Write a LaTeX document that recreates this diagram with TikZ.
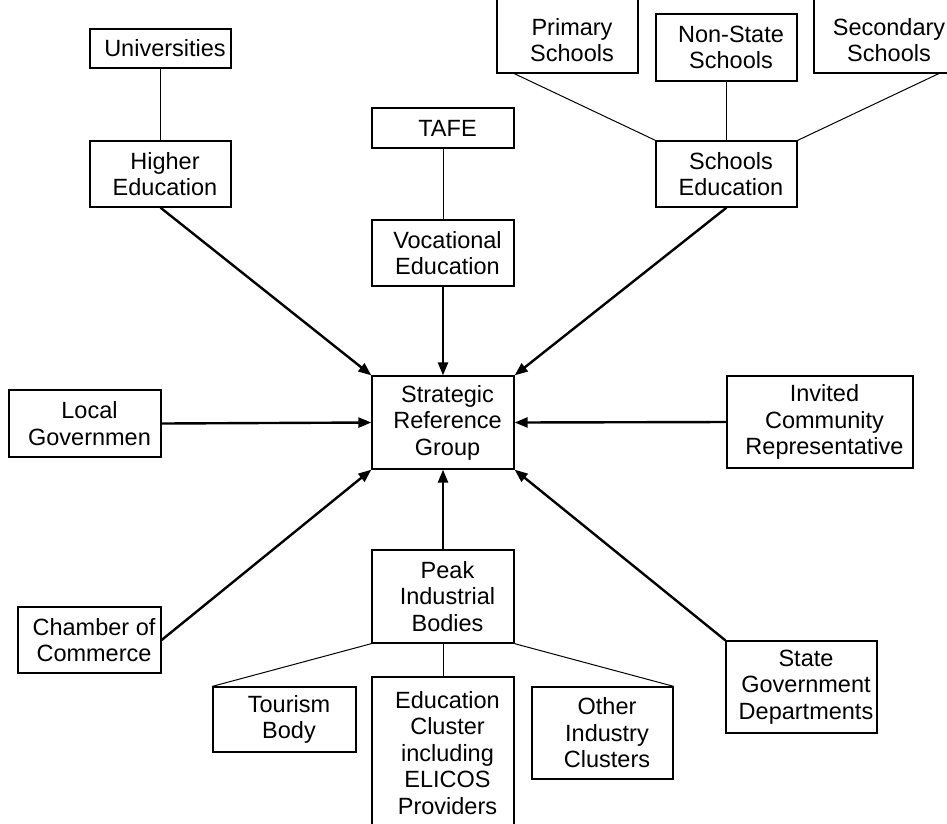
\documentclass[tikz,border=0pt]{standalone}
\usepackage{fontspec}
\setmainfont{Liberation Sans}
\usetikzlibrary{arrows.meta,calc}

\tikzset{
  unit/.style={draw, line width=1.3pt, inner sep=0pt},
  lbl/.style={font=\fontsize{23.5}{26.5}\selectfont, align=center, inner sep=0pt, xshift=4.5pt},
  txt/.style={label={[lbl]center:{#1}}},
  txtlow/.style={label={[lbl, yshift=-4pt]center:{#1}}},
  feed/.style={line width=2.4pt, -{Triangle[length=13pt,width=10pt]}},
  link/.style={line width=1pt},
}

\begin{document}
\begin{tikzpicture}[x=1pt,y=-1pt]
\useasboundingbox (0,0) rectangle (947,823);
\clip (0,0) rectangle (947,823);

% central body
\node[unit, minimum width=142, minimum height=93, txt={Strategic\\Reference\\Group}] (srg) at (443,422.5) {};

% education sectors
\node[unit, minimum width=141, minimum height=39, txt={Universities}] (univ) at (160.5,48.5) {};
\node[unit, minimum width=141, minimum height=66, txt={Higher\\Education}] (higher) at (160.5,174) {};
\node[unit, minimum width=142, minimum height=40, txt={TAFE}] (tafe) at (443,128) {};
\node[unit, minimum width=142, minimum height=66, txt={Vocational\\Education}] (voc) at (443,253) {};
\node[unit, minimum width=141, minimum height=74, txtlow={Primary\\Schools}] (primary) at (567.5,36) {};
\node[unit, minimum width=141, minimum height=67, txt={Non-State\\Schools}] (nonstate) at (726.5,47.5) {};
\node[unit, minimum width=141, minimum height=74, txtlow={Secondary\\Schools}] (secondary) at (884.5,36) {};
\node[unit, minimum width=141, minimum height=66, txt={Schools\\Education}] (schools) at (726.5,174) {};

% government and community
\node[unit, minimum width=152, minimum height=67, txt={Local\\Governmen}] (local) at (85,423.5) {};
\node[unit, minimum width=186, minimum height=92, txt={Invited\\Community\\Representative}] (invited) at (820,422) {};
\node[unit, minimum width=143, minimum height=66, txt={Chamber of\\Commerce}] (chamber) at (89.5,640) {};
\node[unit, minimum width=151, minimum height=92, txt={State\\Government\\Departments}] (state) at (801.5,687) {};

% industry
\node[unit, minimum width=142, minimum height=93, txt={Peak\\Industrial\\Bodies}] (peak) at (443,596.5) {};
\node[unit, minimum width=143, minimum height=65, txt={Tourism\\Body}] (tourism) at (284.5,719.5) {};
\node[unit, minimum width=142, minimum height=152, txt={Education\\Cluster\\including\\ELICOS\\Providers}] (edcluster) at (443,753) {};
\node[unit, minimum width=141, minimum height=92, txt={Other\\Industry\\Clusters}] (other) at (602.5,733) {};

% sub-organisation links
\draw[link] (univ.south) -- (higher.north);
\draw[link] (tafe.south) -- (voc.north);
\coordinate (primfoot) at ($(primary.south west)+(18,0)$);
\coordinate (secfoot) at ($(secondary.south east)+(-17,0)$);
\draw[link] (primfoot) -- (schools.north west);
\draw[link] (nonstate.south) -- (schools.north);
\draw[link] (secfoot) -- (schools.north east);
\draw[link] (peak.south west) -- (tourism.north west);
\draw[link] (peak.south) -- (edcluster.north);
\draw[link] (peak.south east) -- (other.north east);

% representation arrows
\draw[feed] (higher.south) -- (srg.north west);
\draw[feed] (voc.south) -- (srg.north);
\draw[feed] (schools.south) -- (srg.north east);
\draw[feed] (local.east) -- (srg.west);
\draw[feed] (invited.west) -- (srg.east);
\draw[feed] (peak.north) -- (srg.south);
\draw[feed] (chamber.east) -- (srg.south west);
\draw[feed] (state.north west) -- (srg.south east);
\end{tikzpicture}
\end{document}
